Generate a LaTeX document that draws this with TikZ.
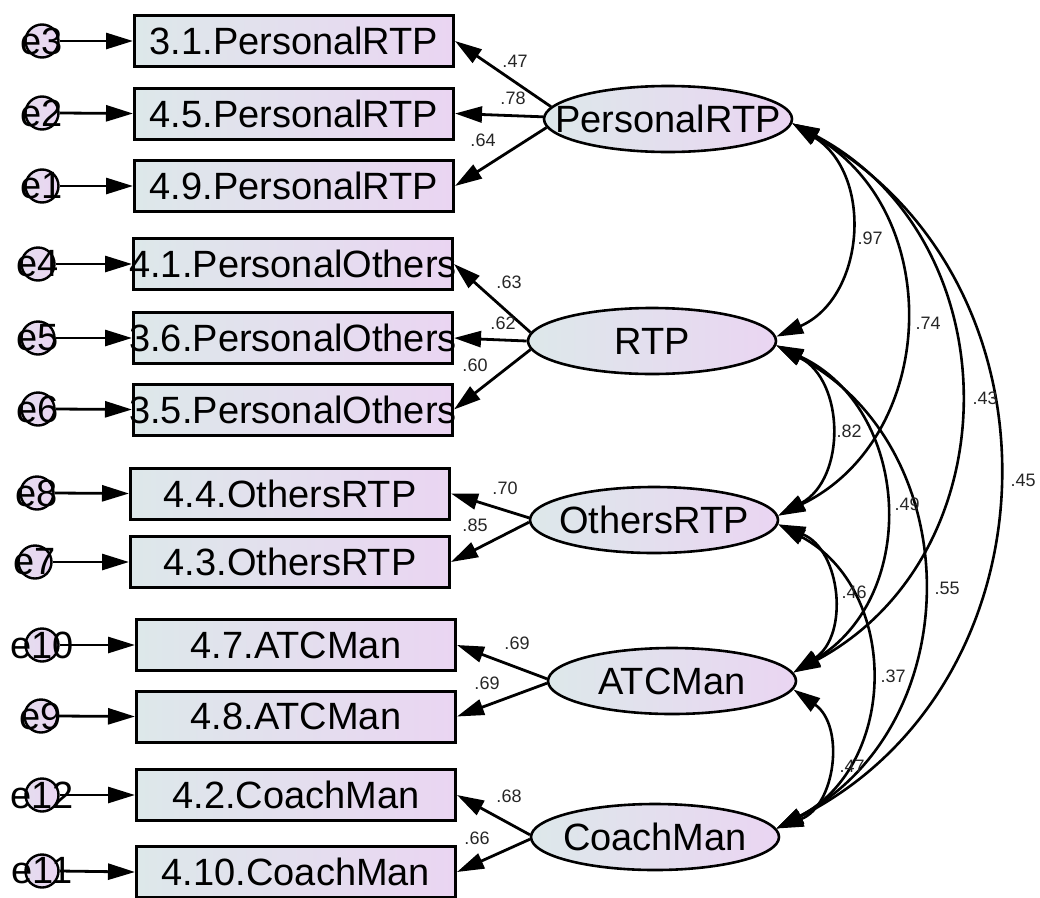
\documentclass[tikz,border=0pt]{standalone}
\usepackage{fontspec}
\setmainfont{Liberation Sans}
\usetikzlibrary{arrows.meta,shapes.geometric}

\definecolor{shadeL}{RGB}{221,232,234}
\definecolor{shadeR}{RGB}{234,213,242}

\begin{document}
\begin{tikzpicture}[x=1pt,y=1pt,
  bigtext/.style={font=\fontsize{38pt}{44pt}\selectfont},
  headend/.style={-{Triangle[length=27pt,width=16pt]}},
  headboth/.style={{Triangle[length=27pt,width=16pt]}-{Triangle[length=27pt,width=16pt]}},
  obs/.style={rectangle, draw=black, line width=3pt, minimum width=319pt,
    minimum height=51pt, inner sep=0pt, left color=shadeL, right color=shadeR,
    label={[bigtext]center:#1}},
  lat/.style={ellipse, draw=black, line width=2.6pt, minimum width=248pt,
    minimum height=66pt, inner sep=0pt, left color=shadeL, right color=shadeR,
    label={[bigtext]center:#1}},
  err/.style={circle, draw=black, line width=2.4pt, minimum size=33pt, inner sep=0pt,
    left color=shadeR!60!shadeL, right color=shadeR,
    label={[bigtext]center:#1}},
  load/.style={line width=2.8pt, headend},
  cov/.style={line width=2.6pt, headboth, bend left=62, looseness=1.16},
  coef/.style={font=\fontsize{18pt}{21pt}\selectfont, text=black!85, inner sep=0pt}
]
\useasboundingbox (0,0) rectangle (1040,-897);

% observed indicators
\node[obs=3.1.PersonalRTP]    (b1)  at (294,-41)    {};
\node[obs=4.5.PersonalRTP]    (b2)  at (294,-113.5) {};
\node[obs=4.9.PersonalRTP]    (b3)  at (294,-186)   {};
\node[obs=4.1.PersonalOthers] (b4)  at (293,-264)   {};
\node[obs=3.6.PersonalOthers] (b5)  at (293,-338)   {};
\node[obs=3.5.PersonalOthers] (b6)  at (293,-409.5) {};
\node[obs=4.4.OthersRTP]      (b7)  at (290,-493.5) {};
\node[obs=4.3.OthersRTP]      (b8)  at (290,-562)   {};
\node[obs=4.7.ATCMan]         (b9)  at (296,-645)   {};
\node[obs=4.8.ATCMan]         (b10) at (296,-716.5) {};
\node[obs=4.2.CoachMan]       (b11) at (296,-795)   {};
\node[obs=4.10.CoachMan]      (b12) at (296,-872)   {};

% error terms
\node[err=e3]  (e3)  at (42,-41)  {};
\node[err=e2]  (e2)  at (42,-113) {};
\node[err=e1]  (e1)  at (42,-186) {};
\node[err=e4]  (e4)  at (38,-264) {};
\node[err=e5]  (e5)  at (38,-338) {};
\node[err=e6]  (e6)  at (38,-409) {};
\node[err=e8]  (e8)  at (37,-493) {};
\node[err=e7]  (e7)  at (35,-562) {};
\node[err=e10] (e10) at (42,-645) {};
\node[err=e9]  (e9)  at (41,-716) {};
\node[err=e12] (e12) at (42,-795) {};
\node[err=e11] (e11) at (42,-871) {};

% latent factors
\node[lat=PersonalRTP] (prtp)  at (668,-119) {};
\node[lat=RTP]         (rtp)   at (652,-341) {};
\node[lat=OthersRTP]   (ortp)  at (654,-520) {};
\node[lat=ATCMan]      (atc)   at (672,-681) {};
\node[lat=CoachMan]    (coach) at (655,-837) {};

% error paths
\foreach \e/\b in {e3/b1,e2/b2,e1/b3,e4/b4,e5/b5,e6/b6,e8/b7,e7/b8,e10/b9,e9/b10,e12/b11,e11/b12}
  \draw[load] (\e.east) -- (\b.west);

% factor loadings
\draw[load] (prtp.174) -- (b1.east);
\draw[load] (prtp.179) -- (b2.east);
\draw[load] (prtp.184) -- (b3.east);
\draw[load] (rtp.176) -- (b4.east);
\draw[load] (rtp.180) -- (b5.east);
\draw[load] (rtp.184) -- (b6.east);
\draw[load] (ortp.179) -- (b7.east);
\draw[load] (ortp.181) -- (b8.east);
\draw[load] (atc.179) -- (b9.east);
\draw[load] (atc.181) -- (b10.east);
\draw[load] (coach.179) -- (b11.east);
\draw[load] (coach.181) -- (b12.east);

\node[coef] (l1)  at (515,-61)  {.47};
\node[coef] (l2)  at (513,-98)  {.78};
\node[coef] (l3)  at (483,-140) {.64};
\node[coef] (l4)  at (509,-282) {.63};
\node[coef] (l5)  at (503,-323) {.62};
\node[coef] (l6)  at (475,-365) {.60};
\node[coef] (l7)  at (505,-488) {.70};
\node[coef] (l8)  at (475,-525) {.85};
\node[coef] (l9)  at (517,-643) {.69};
\node[coef] (l10) at (487,-683) {.69};
\node[coef] (l11) at (509,-796) {.68};
\node[coef] (l12) at (477,-838) {.66};

% factor covariances
\draw[cov] (prtp.-2) to (rtp.2);
\draw[cov] (prtp.-2) to (ortp.2);
\draw[cov] (prtp.-2) to (atc.4);
\draw[cov] (prtp.-2) to (coach.4);
\draw[cov] (rtp.-2)  to (ortp.2);
\draw[cov] (rtp.-2)  to (atc.4);
\draw[cov] (rtp.-2)  to (coach.4);
\draw[cov] (ortp.-2) to (atc.4);
\draw[cov] (ortp.-2) to (coach.4);
\draw[cov] (atc.-4)  to (coach.4);

\node[coef] (c1)  at (870,-238)  {.97};
\node[coef] (c2)  at (928,-323)  {.74};
\node[coef] (c3)  at (985,-398)  {.43};
\node[coef] (c4)  at (1023,-480) {.45};
\node[coef] (c5)  at (849,-431)  {.82};
\node[coef] (c6)  at (907,-504)  {.49};
\node[coef] (c7)  at (947,-588)  {.55};
\node[coef] (c8)  at (854,-592)  {.46};
\node[coef] (c9)  at (893,-676)  {.37};
\node[coef] (c10) at (852,-766)  {.47};
\end{tikzpicture}
\end{document}
